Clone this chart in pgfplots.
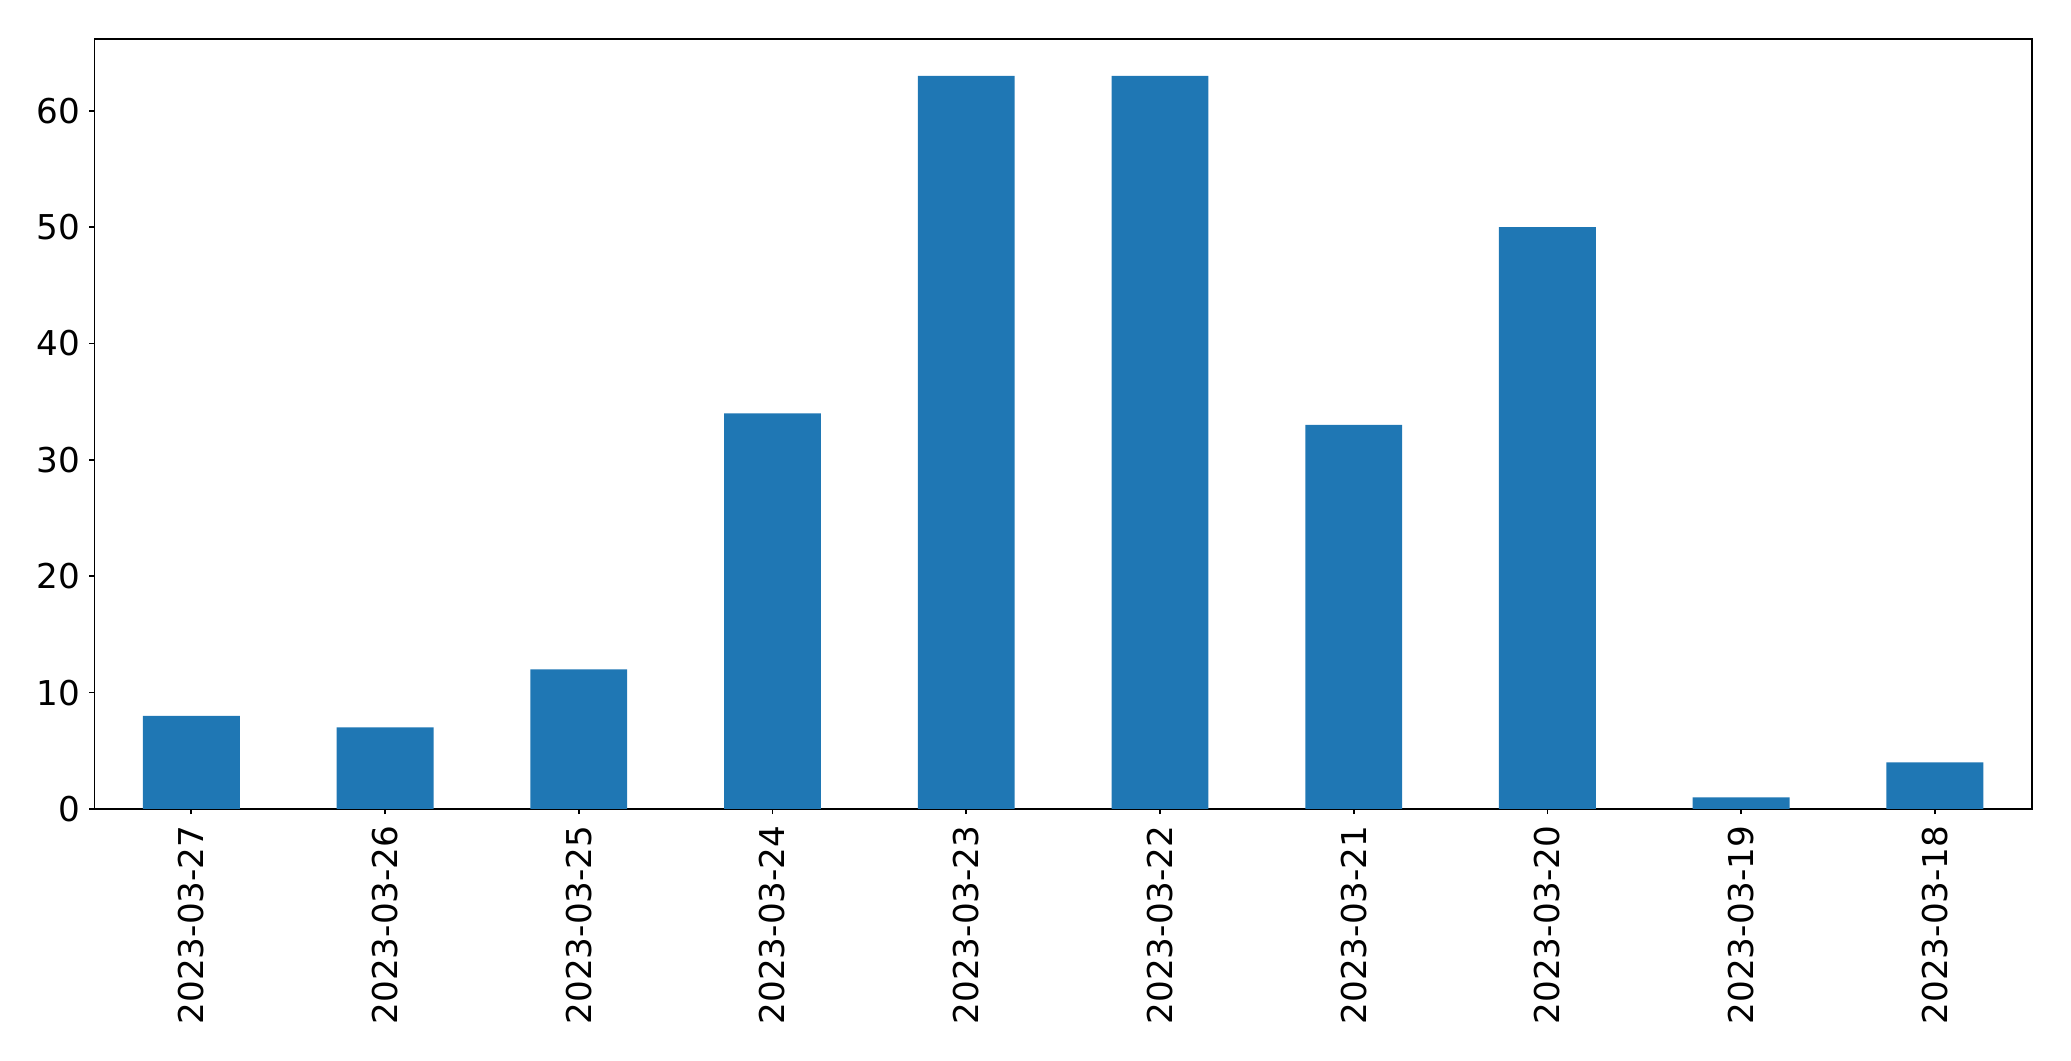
\documentclass[border=0pt]{standalone}
\usepackage{fontspec}
\setmainfont{DejaVu Sans}
\usepackage{pgfplots}
\pgfplotsset{compat=1.18}
\definecolor{mplblue}{HTML}{1F77B4}
\begin{document}
\begin{tikzpicture}
\begin{axis}[
  name=main,
  at={(0,0)}, anchor=south west,
  width=968.6pt, height=384.8pt, scale only axis,
  xmin=-0.5, xmax=9.5, ymin=0, ymax=66.15,
  xtick={0,1,2,3,4,5,6,7,8,9},
  xticklabels={2023-03-27,2023-03-26,2023-03-25,2023-03-24,2023-03-23,2023-03-22,2023-03-21,2023-03-20,2023-03-19,2023-03-18},
  ytick={0,10,20,30,40,50,60},
  tick align=outside, major tick length=2.6pt,
  tick pos=left,
  axis line style={line width=0.9pt},
  every tick/.style={black, line width=0.9pt},
  ticklabel style={font=\fontsize{17.1}{21}\selectfont},
  xticklabel style={rotate=90, anchor=east, inner sep=0pt},
  yticklabel style={anchor=east, inner sep=0pt},
  xticklabel shift=5.5pt,
  yticklabel shift=4.2pt,
  /pgf/number format/assume math mode=true,
]
\addplot[ybar, bar width=0.5, fill=mplblue, draw=none] coordinates {
  (0,8) (1,7) (2,12) (3,34) (4,63) (5,63) (6,33) (7,50) (8,1) (9,4)
};
\end{axis}
\pgfresetboundingbox
\useasboundingbox (-47.25pt,-126pt) rectangle (988.25pt,404.45pt);
\end{tikzpicture}
\end{document}
